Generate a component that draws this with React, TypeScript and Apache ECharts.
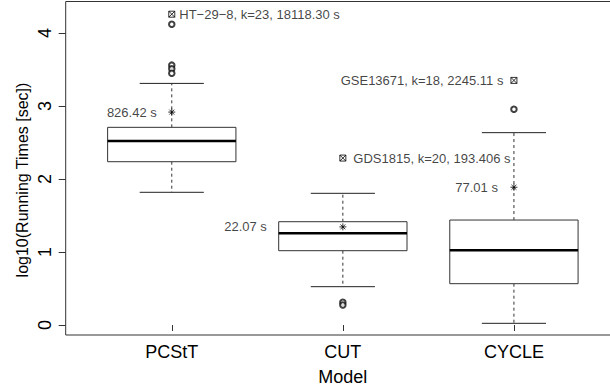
import React, { useEffect, useRef } from 'react';
import * as echarts from 'echarts';

const categories = ['PCStT', 'CUT', 'CYCLE'];
// [lower whisker, Q1, median, Q3, upper whisker] in log10(seconds)
const boxPCStT = [1.818, 2.237, 2.52, 2.708, 3.31];
const boxCUT = [0.525, 1.018, 1.256, 1.415, 1.804];
const boxCYCLE = [0.023, 0.566, 1.023, 1.438, 2.635];
const boxStats = [boxPCStT, boxCUT, boxCYCLE];
// outliers: [category position, value]
const outliers = [
  [1, 4.12], [1, 3.56], [1, 3.51], [1, 3.45],
  [2, 0.31], [2, 0.275],
  [3, 2.955],
];
const meanValues = [2.917, 1.344, 1.887];
const meanLabels = ['826.42 s', '22.07 s', '77.01 s'];
const specialValues = [4.258, 2.287, 3.351];
const specialLabels = [
  'HT\u221229\u22128, k=23, 18118.30 s',
  'GDS1815, k=20, 193.406 s',
  'GSE13671, k=18, 2245.11 s',
];
const yTicks = [0, 1, 2, 3, 4];
const xTicks = [1, 2, 3];
const yAxisTitle = 'log10(Running Times [sec])';
const xAxisTitle = 'Model';

// label layout (style, not data)
const meanLabelLayout = [
  { position: 'left', distance: 11 },
  { position: 'left', distance: 72 },
  { position: 'left', distance: 12 },
];
const specialLabelLayout = [
  { position: 'right', distance: 4 },
  { position: 'right', distance: 7 },
  { position: 'left', distance: 7 },
];

const FONT = 'Liberation Sans, Arial, Helvetica, sans-serif';

export default function App() {
  const ref = useRef<HTMLDivElement>(null);
  useEffect(() => {
    if (!ref.current) return;
    const chart = echarts.init(ref.current, null, { renderer: 'svg' });
    const boxData = boxStats.map((s, i) => [i + 1, ...s]);
    const option: any = {
      animation: false,
      backgroundColor: '#fff',
      textStyle: { fontFamily: FONT },
      grid: {
        left: 65.7,
        top: 1.5,
        right: -10,
        bottom: 54,
        outerBoundsMode: 'none',
        containLabel: false,
        show: true,
        borderColor: '#333',
        borderWidth: 1,
        backgroundColor: 'transparent',
      },
      graphic: [
        {
          type: 'text',
          x: 22,
          y: 180,
          rotation: Math.PI / 2,
          style: {
            text: yAxisTitle,
            fontSize: 16,
            fontFamily: FONT,
            fill: '#000',
            align: 'center',
            verticalAlign: 'middle',
          },
        },
      ],
      xAxis: {
        type: 'value',
        min: 0.38,
        max: 3.62,
        name: xAxisTitle,
        nameLocation: 'middle',
        nameGap: 33,
        nameTextStyle: { fontSize: 18, color: '#000', fontFamily: FONT },
        axisLine: { show: false },
        splitLine: { show: false },
        axisTick: { show: true, customValues: xTicks, length: 6, lineStyle: { color: '#333' } },
        axisLabel: {
          customValues: xTicks,
          fontSize: 18,
          color: '#000',
          margin: 8,
          fontFamily: FONT,
          formatter: (v: number) => categories[Math.round(v) - 1] ?? '',
        },
      },
      yAxis: {
        type: 'value',
        min: -0.137,
        max: 4.432,
        axisLine: { show: false },
        splitLine: { show: false },
        axisTick: { show: true, customValues: yTicks, length: 7, lineStyle: { color: '#333' } },
        axisLabel: {
          customValues: yTicks,
          rotate: 90,
          fontSize: 18,
          color: '#000',
          margin: 12,
          fontFamily: FONT,
        },
      },
      series: [
        {
          type: 'custom',
          data: boxData,
          encode: { x: 0, y: [1, 2, 3, 4, 5] },
          renderItem: (params: any, api: any) => {
            const x = api.value(0);
            const lo = api.value(1);
            const q1 = api.value(2);
            const med = api.value(3);
            const q3 = api.value(4);
            const hi = api.value(5);
            const cx = api.coord([x, 0])[0];
            const w = api.size([0.75, 0])[0];
            const capW = w / 4;
            const yLo = api.coord([x, lo])[1];
            const yQ1 = api.coord([x, q1])[1];
            const yMed = api.coord([x, med])[1];
            const yQ3 = api.coord([x, q3])[1];
            const yHi = api.coord([x, hi])[1];
            const dash = { stroke: '#333', lineWidth: 1, lineDash: [3, 3] };
            const solid = { stroke: '#222', lineWidth: 1 };
            return {
              type: 'group',
              children: [
                { type: 'line', shape: { x1: cx, y1: yQ3, x2: cx, y2: yHi }, style: dash },
                { type: 'line', shape: { x1: cx, y1: yQ1, x2: cx, y2: yLo }, style: dash },
                { type: 'line', shape: { x1: cx - capW, y1: yHi, x2: cx + capW, y2: yHi }, style: solid },
                { type: 'line', shape: { x1: cx - capW, y1: yLo, x2: cx + capW, y2: yLo }, style: solid },
                {
                  type: 'rect',
                  shape: { x: cx - w / 2, y: yQ3, width: w, height: yQ1 - yQ3 },
                  style: { fill: '#fff', stroke: '#333', lineWidth: 1 },
                },
                {
                  type: 'line',
                  shape: { x1: cx - w / 2, y1: yMed, x2: cx + w / 2, y2: yMed },
                  style: { stroke: '#000', lineWidth: 2.5 },
                },
              ],
            };
          },
        },
        {
          type: 'scatter',
          data: outliers,
          symbol: 'emptyCircle',
          symbolSize: 5.5,
          itemStyle: { color: '#111', borderWidth: 1 },
        },
        {
          type: 'scatter',
          data: meanValues.map((v, i) => ({
            value: [i + 1, v],
            label: {
              show: true,
              formatter: meanLabels[i],
              position: meanLabelLayout[i].position,
              distance: meanLabelLayout[i].distance,
            },
          })),
          symbol: 'path://M5 0V10M0 5H10M1.5 1.5L8.5 8.5M8.5 1.5L1.5 8.5',
          symbolSize: 7,
          itemStyle: { color: 'transparent', borderColor: '#000', borderWidth: 1 },
          label: { fontSize: 13, color: '#111', fontFamily: FONT },
        },
        {
          type: 'scatter',
          data: specialValues.map((v, i) => ({
            value: [i + 1, v],
            label: {
              show: true,
              formatter: specialLabels[i],
              position: specialLabelLayout[i].position,
              distance: specialLabelLayout[i].distance,
            },
          })),
          symbol: 'path://M0 0H10V10H0ZM0 0L10 10M10 0L0 10',
          symbolSize: 6,
          itemStyle: { color: 'transparent', borderColor: '#000', borderWidth: 1 },
          label: { fontSize: 13, color: '#111', fontFamily: FONT },
        },
      ],
    };
    chart.setOption(option);
    return () => chart.dispose();
  }, []);
  return (
    <div
      ref={ref}
      style={{ position: 'fixed', left: 0, top: 0, width: 610, height: 389 }}
    />
  );
}
